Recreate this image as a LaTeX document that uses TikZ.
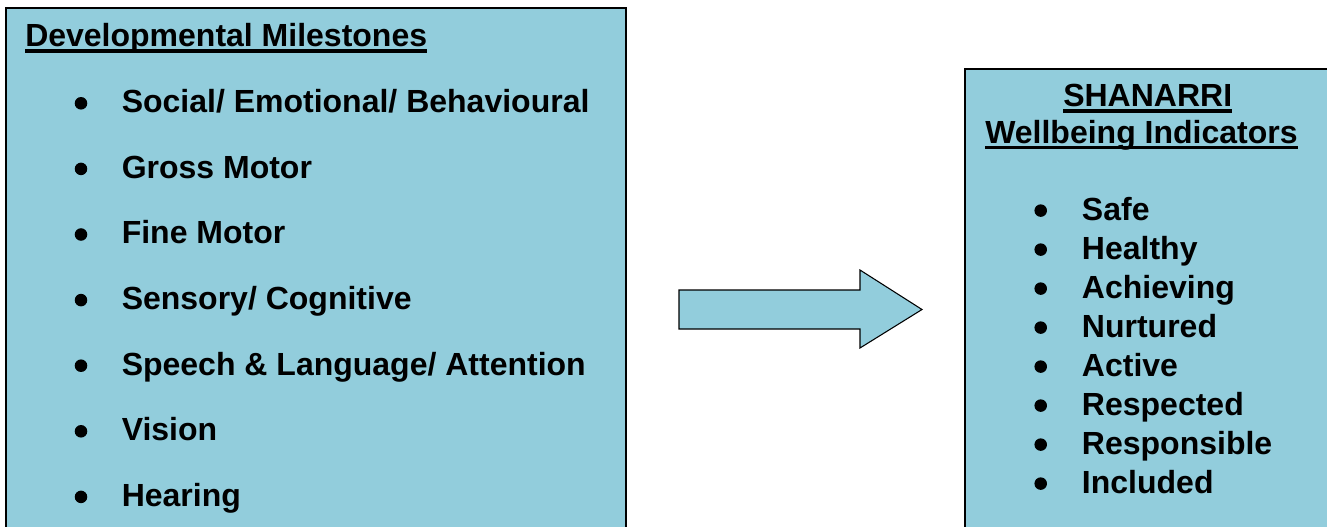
\documentclass[tikz,border=0pt]{standalone}
\usepackage{fontspec}
\setmainfont{Liberation Sans}
\usetikzlibrary{positioning}
\definecolor{aqua}{HTML}{92CDDC}

\newcommand{\hdline}[1]{\setbox0=\hbox{#1}\rlap{\rule[-4.6pt]{\wd0}{2.6pt}}\box0}

\tikzset{panel/.style={draw=black, line width=1.5pt, fill=aqua},
         txt/.style={anchor=base west, inner sep=0pt,
                     font=\fontsize{24}{28}\selectfont\bfseries},
         dot/.style={fill=black}}

\begin{document}
\begin{tikzpicture}[x=0.75pt, y=-0.75pt]
\useasboundingbox (0,0) rectangle (1327,526);
\clip (0,0) rectangle (1327,526);

% the two boxes
\node[panel, anchor=north west, minimum width=465pt, minimum height=400pt] (milestones) at (5,7) {};
\node[panel, anchor=north west, minimum width=300pt, minimum height=360pt] (shanarri) at (964,68) {};

% block arrow between them
\draw[panel, line width=0.8pt] (679,290) -- (860,290) -- (860,270) -- (922,309.5)
    -- (860,348) -- (860,329) -- (679,329) -- cycle;

% left box
\node[txt] (mshead) at (25,46.7) {\hdline{Developmental Milestones}};
\foreach \t [count=\i from 0] in {Social/ Emotional/ Behavioural, Gross Motor, Fine Motor,
    Sensory/ Cognitive, Speech \& Language/ Attention, Vision, Hearing}
{
    \node[txt] (ms\i) at (121.5,{112.7+65.6*\i}) {\t};
    \fill[dot] (ms\i.base west) ++(-40.5,-9.4) circle (4.7pt);
}

% right box
\node[txt] (shtitle) at (1063,106.7) {\hdline{SHANARRI}};
\node[txt] (shsub) at (985,143.3) {\hdline{Wellbeing Indicators}};
\foreach \t [count=\i from 0] in {Safe, Healthy, Achieving, Nurtured, Active,
    Respected, Responsible, Included}
{
    \node[txt] (sh\i) at (1081.7,{220+39*\i}) {\t};
    \fill[dot] (sh\i.base west) ++(-41,-9.4) circle (4.7pt);
}
\end{tikzpicture}
\end{document}
